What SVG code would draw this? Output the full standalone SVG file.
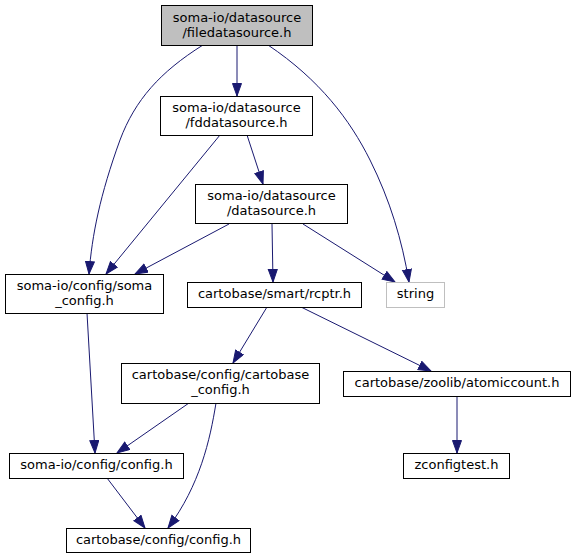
<svg xmlns="http://www.w3.org/2000/svg" width="575" height="559" viewBox="0 0 575 559">
<style>
.n rect{fill:#fff;stroke:#000;stroke-width:1}
.n text{font-family:"DejaVu Sans",sans-serif;font-size:13px;text-anchor:middle;fill:#000}
.e path{fill:none;stroke:#191970;stroke-width:1;marker-end:url(#a)}
</style>
<defs>
<marker id="a" markerUnits="userSpaceOnUse" markerWidth="15" markerHeight="12" refX="13" refY="5" orient="auto">
<path d="M0.5,0.5 L13,5 L0.5,9.5 z" fill="#191970" stroke="#191970" stroke-width="1"/>
</marker>
</defs>
<rect width="575" height="559" fill="#fff"/>
<g id="edges" class="e">
<path d="M237,45 L237,96"/>
<path d="M203,45 C160,72 135,100 120,140 C100,195 92,235 89,274"/>
<path d="M268,45 C320,80 350,120 370,160 C390,200 402,240 409,282"/>
<path d="M247,135 L263,184"/>
<path d="M220,135 L106,274"/>
<path d="M229,224 L135,274"/>
<path d="M272,224 L273,282"/>
<path d="M303,224 L395,282"/>
<path d="M267,307 L233,363"/>
<path d="M301,307 L431,371"/>
<path d="M87,313 L95,453"/>
<path d="M189,403 L117,453"/>
<path d="M216,403 C210,440 200,485 168,528"/>
<path d="M457,396 L457,453"/>
<path d="M107,478 L145,528"/>
</g>
<g id="node1" class="n">
<rect x="161.5" y="5.5" width="151" height="40" style="fill:#bfbfbf"/>
<text x="237" y="22">soma-io/datasource</text>
<text x="237" y="37">/filedatasource.h</text>
</g>
<g id="node2" class="n">
<rect x="160.5" y="96.5" width="152" height="39"/>
<text x="236.5" y="112">soma-io/datasource</text>
<text x="236.5" y="127">/fddatasource.h</text>
</g>
<g id="node3" class="n">
<rect x="195.5" y="184.5" width="152" height="39"/>
<text x="271.5" y="200">soma-io/datasource</text>
<text x="271.5" y="215">/datasource.h</text>
</g>
<g id="node4" class="n">
<rect x="5.5" y="274.5" width="158" height="39"/>
<text x="84.5" y="290">soma-io/config/soma</text>
<text x="84.5" y="305">_config.h</text>
</g>
<g id="node5" class="n">
<rect x="187.5" y="282.5" width="174" height="25"/>
<text x="274.5" y="298">cartobase/smart/rcptr.h</text>
</g>
<g id="node6" class="n">
<rect x="386.5" y="282.5" width="58" height="25" style="stroke:#bfbfbf"/>
<text x="415.5" y="298">string</text>
</g>
<g id="node7" class="n">
<rect x="121.5" y="363.5" width="198" height="40"/>
<text x="220.5" y="379">cartobase/config/cartobase</text>
<text x="220.5" y="394">_config.h</text>
</g>
<g id="node8" class="n">
<rect x="343.5" y="371.5" width="227" height="25"/>
<text x="457" y="387">cartobase/zoolib/atomiccount.h</text>
</g>
<g id="node9" class="n">
<rect x="9.5" y="453.5" width="174" height="25"/>
<text x="96.5" y="469">soma-io/config/config.h</text>
</g>
<g id="node10" class="n">
<rect x="403.5" y="453.5" width="106" height="25"/>
<text x="456.5" y="469">zconfigtest.h</text>
</g>
<g id="node11" class="n">
<rect x="66.5" y="528.5" width="184" height="24"/>
<text x="158.5" y="544">cartobase/config/config.h</text>
</g>
</svg>
